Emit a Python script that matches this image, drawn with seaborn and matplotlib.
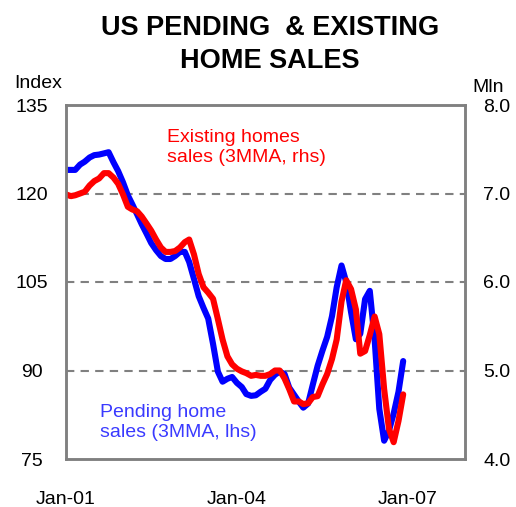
import pandas as pd
import matplotlib.pyplot as plt
import matplotlib.dates as mdates
import seaborn as sns

# monthly, Jan-01 .. Dec-06
months = pd.date_range("2001-01-01", periods=72, freq="MS")

pending_index = [
    124.0, 124.0, 124.0, 124.9, 125.4, 126.1, 126.5, 126.6, 126.8, 127.0, 125.3, 123.8,
    121.9, 119.7, 118.2, 116.5, 114.8, 113.2, 111.6, 110.4, 109.4, 108.9, 108.9, 109.4,
    110.1, 110.1, 108.4, 105.5, 102.6, 100.6, 98.8, 94.5, 89.8, 88.1, 88.6, 88.9,
    87.9, 87.2, 86.0, 85.7, 85.8, 86.4, 86.9, 88.4, 89.3, 89.8, 89.4, 87.1,
    85.9, 84.7, 83.7, 84.4, 87.6, 90.8, 93.3, 95.7, 99.2, 104.1, 107.8, 105.0,
    99.9, 95.3, 96.2, 102.1, 103.5, 95.3, 83.5, 78.1, 79.8, 82.7, 86.4, 91.6,
]

existing_mln = [
    6.99, 6.97, 6.98, 7.00, 7.02, 7.09, 7.14, 7.17, 7.23, 7.23, 7.18, 7.11,
    6.99, 6.85, 6.82, 6.80, 6.74, 6.66, 6.58, 6.48, 6.39, 6.34, 6.34, 6.35,
    6.39, 6.45, 6.48, 6.31, 6.09, 5.94, 5.88, 5.81, 5.58, 5.35, 5.16, 5.07,
    5.02, 4.99, 4.97, 4.94, 4.95, 4.94, 4.94, 4.96, 5.00, 5.00, 4.91, 4.79,
    4.65, 4.65, 4.62, 4.63, 4.70, 4.71, 4.84, 4.96, 5.13, 5.35, 5.78, 6.02,
    5.92, 5.69, 5.19, 5.22, 5.40, 5.61, 5.41, 4.79, 4.34, 4.19, 4.43, 4.73,
]

left_ticks = [75, 90, 105, 120, 135]
right_ticks = [4.0, 5.0, 6.0, 7.0, 8.0]
x_ticks = ["2001-01-01", "2004-01-01", "2007-01-01"]

df = pd.DataFrame({"month": months, "pending": pending_index, "existing": existing_mln})

sns.set_style("white")
plt.rcParams['font.family'] = ['Liberation Sans', 'DejaVu Sans']
plt.rcParams['text.color'] = 'black'

fig = plt.figure(figsize=(5.16, 5.07), dpi=100)
ax = fig.add_axes([66 / 516, 48 / 507, 399 / 516, 354 / 507])
ax2 = ax.twinx()

sns.lineplot(data=df, x="month", y="pending", ax=ax, color="#0000ff", linewidth=4.4,
             solid_capstyle="round")
sns.lineplot(data=df, x="month", y="existing", ax=ax2, color="#ff0000", linewidth=4.4,
             solid_capstyle="round")

ax.set_xlim(pd.Timestamp("2001-01-01"), pd.Timestamp("2008-01-01"))
ax.set_ylim(75, 135)
ax2.set_ylim(4.0, 8.0)

ax.set_yticks(left_ticks)
ax.set_yticklabels([str(t) for t in left_ticks], ha="center")
ax2.set_yticks(right_ticks)
ax2.set_yticklabels([f"{t:.1f}" for t in right_ticks], ha="center")
ax.tick_params(axis="y", length=0, pad=24.5, labelsize=14, labelcolor="black")
ax2.tick_params(axis="y", length=0, pad=23, labelsize=14, labelcolor="black")

ax.set_xticks(pd.to_datetime(x_ticks))
ax.xaxis.set_major_formatter(mdates.DateFormatter("%b-%y"))
ax.tick_params(axis="x", direction="in", length=5, width=1.5, color="#808080",
               pad=23, labelsize=14, labelcolor="black")

for a in (ax, ax2):
    a.set_xlabel("")
    a.set_ylabel("")
    for s in a.spines.values():
        s.set_color("#808080")
        s.set_linewidth(1.8)

for v in [90, 105, 120]:
    ax.axhline(v, color="#808080", linewidth=1.5, linestyle=(0, (4, 3)), zorder=0)

fig.text(270 / 516, 1 - 28 / 507, "US PENDING  & EXISTING", ha="center", va="center",
         fontsize=19.5, fontweight="bold")
fig.text(270 / 516, 1 - 61 / 507, "HOME SALES", ha="center", va="center",
         fontsize=19.5, fontweight="bold")
fig.text(38 / 516, 1 - 83 / 507, "Index", ha="center", va="center", fontsize=14)
fig.text(488 / 516, 1 - 87 / 507, "Mln", ha="center", va="center", fontsize=14)

fig.text(167 / 516, 1 - 147.5 / 507, "Existing homes\nsales (3MMA, rhs)", ha="left",
         va="center", fontsize=14, color="#ff0000", linespacing=1.3)
fig.text(100 / 516, 1 - 422.5 / 507, "Pending home\nsales (3MMA, lhs)", ha="left",
         va="center", fontsize=14, color="#3a3aff", linespacing=1.3)

fig.savefig("out.png", dpi=100)
